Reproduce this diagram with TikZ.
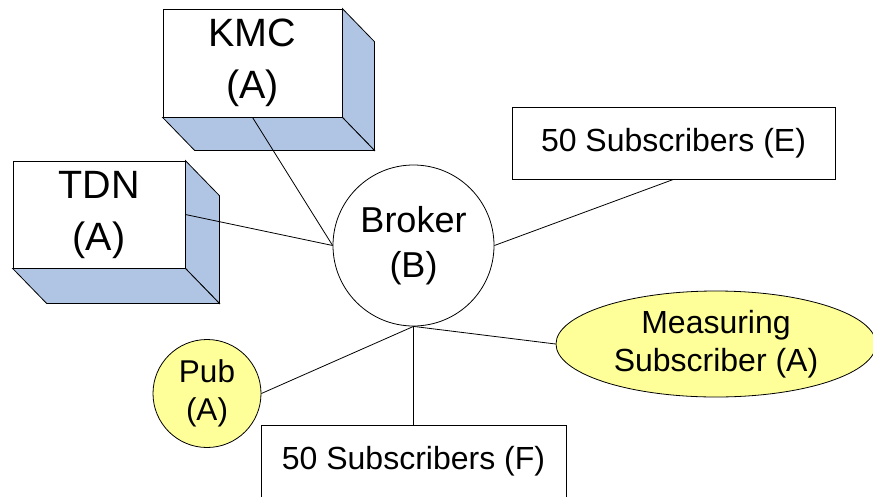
\documentclass[tikz,border=0pt]{standalone}
\usepackage{fontspec}
\setmainfont{Liberation Sans}
\usetikzlibrary{shapes.geometric,calc}
\definecolor{depthblue}{RGB}{176,197,228}
\definecolor{padyellow}{RGB}{255,255,153}

% side and bottom faces of a block whose front face is node #1, depth (#2,#3)
\newcommand\blockfaces[3]{%
  \filldraw[facestyle] (#1.north east) -- ++(#2,#3)
    -- ($(#1.south east)+(#2,#3)$) -- (#1.south east) -- cycle;
  \filldraw[facestyle] (#1.south west) -- (#1.south east)
    -- ($(#1.south east)+(#2,#3)$) -- ($(#1.south west)+(#2,#3)$) -- cycle;
}

\begin{document}
\begin{tikzpicture}[x=1pt,y=-1pt,line width=0.8pt,
  facestyle/.style={fill=depthblue,draw=black,line width=0.8pt},
  frontface/.style={draw,fill=white,inner sep=0pt,align=center},
  bigtext/.style={font=\fontsize{39.5}{52}\selectfont},
  broktext/.style={font=\fontsize{36}{45}\selectfont},
  smalltext/.style={font=\fontsize{32}{38}\selectfont},
  subbox/.style={draw,fill=white,inner sep=0pt,minimum width=323pt,minimum height=72pt,smalltext},
  link/.style={draw,line width=0.8pt}]
\useasboundingbox (0,0) rectangle (873,496);
\clip (0,0) rectangle (873,496);

% 3D blocks: front face, then the shaded side and bottom faces
\node[frontface,bigtext,minimum width=179pt,minimum height=108pt] (kmc) at (252.5,63) {KMC\\(A)};
\blockfaces{kmc}{32}{33}

\node[frontface,bigtext,minimum width=172pt,minimum height=107pt] (tdn) at (99,214.5) {TDN\\(A)};
\blockfaces{tdn}{34}{35}

% hub and leaves
\node[draw,circle,fill=white,inner sep=0pt,minimum size=161pt,align=center,broktext] (broker) at (413.5,245.5) {Broker\\(B)};
\node[subbox] (subE) at (673.5,143) {50 Subscribers (E)};
\node[draw,ellipse,fill=padyellow,inner sep=0pt,minimum width=320pt,minimum height=106pt,align=center,smalltext] (meas) at (716,344) {Measuring\\Subscriber (A)};
\node[draw,circle,fill=padyellow,inner sep=0pt,minimum size=108pt,align=center,font=\fontsize{31.5}{38}\selectfont] (pub) at (207,393.5) {Pub\\(A)};
\node[draw,fill=white,inner sep=0pt,minimum width=305pt,minimum height=72pt,smalltext] (subF) at (413.5,461) {50 Subscribers (F)};

% connectors
\draw[link] (kmc.south) -- (broker.west);
\draw[link] (tdn.east) -- (broker.west);
\draw[link] (subE.south) -- (broker.east);
\draw[link] (broker.south) -- (pub.east);
\draw[link] (broker.south) -- (subF.north);
\draw[link] (broker.south) -- (meas.west);
\end{tikzpicture}
\end{document}
